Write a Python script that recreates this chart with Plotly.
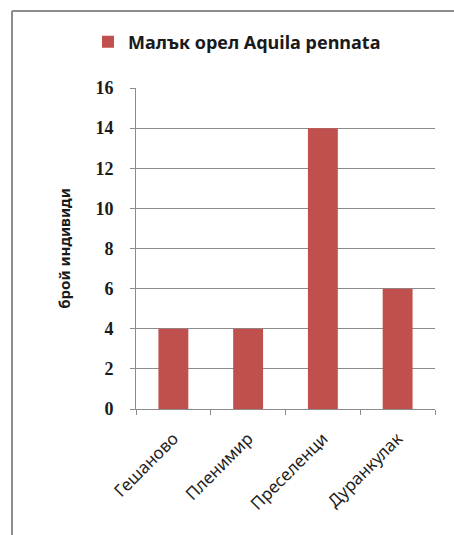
import plotly.graph_objects as go

categories = ["Гешаново", "Пленимир", "Преселенци", "Дуранкулак"]
values = [4, 4, 14, 6]
series_name = "Малък орел Aquila pennata"
y_title = "брой индивиди"

W, H = 454, 535
L, R, T, B = 136, 19, 88, 126
pw, ph = W - L - R, H - T - B

def px_x(x):
    return (x - L) / pw

def px_y(y):
    return (H - B - y) / ph

fig = go.Figure()
fig.add_trace(go.Bar(
    x=categories, y=values, name=series_name,
    marker=dict(color="#C0504D", line=dict(width=0)),
    showlegend=True, hoverinfo="skip",
))

frame = dict(color="#8c8c8c", width=2)
fig.update_layout(
    width=W, height=H,
    margin=dict(l=L, r=R, t=T, b=B),
    paper_bgcolor="white", plot_bgcolor="white",
    bargap=0.6,
    hovermode=False,
    showlegend=True,
    legend=dict(
        orientation="h", x=px_x(237), xanchor="center", y=px_y(42), yanchor="middle",
        font=dict(family="Noto Sans", size=18, color="#1a1a1a", weight="bold"),
        itemwidth=30,
    ),
    font=dict(family="Noto Sans", color="#1a1a1a"),
    shapes=[
        dict(type="line", xref="paper", yref="paper",
             x0=px_x(12), x1=px_x(12), y0=px_y(11), y1=px_y(535), line=frame, layer="below"),
        dict(type="line", xref="paper", yref="paper",
             x0=px_x(12), x1=px_x(454), y0=px_y(11), y1=px_y(11), line=frame, layer="below"),
    ],
)

fig.update_yaxes(
    range=[0, 16], dtick=2, showgrid=True, gridcolor="#8c8c8c", gridwidth=1,
    showline=True, linecolor="#8c8c8c", linewidth=1,
    ticks="outside", ticklen=5, tickcolor="#8c8c8c", ticklabelstandoff=13,
    tickfont=dict(family="Liberation Serif", size=18, color="#1a1a1a", weight="bold"),
    title=dict(text=y_title, font=dict(family="Noto Sans", size=15, color="#1a1a1a", weight="bold"), standoff=21),
    zeroline=False,
)
fig.update_xaxes(
    showline=True, linecolor="#8c8c8c", linewidth=1,
    ticks="outside", ticklen=5, tickcolor="#8c8c8c", tickson="boundaries",
    tickangle=-45, ticklabelstandoff=12,
    tickfont=dict(family="Noto Sans", size=17, color="#222222"),
)

fig.write_html(
    "out.html",
    config={"displayModeBar": False, "staticPlot": True},
    post_script=(
        "document.documentElement.style.overflow='hidden';"
        "document.body.style.margin='0';document.body.style.overflow='hidden';"
    ),
)
